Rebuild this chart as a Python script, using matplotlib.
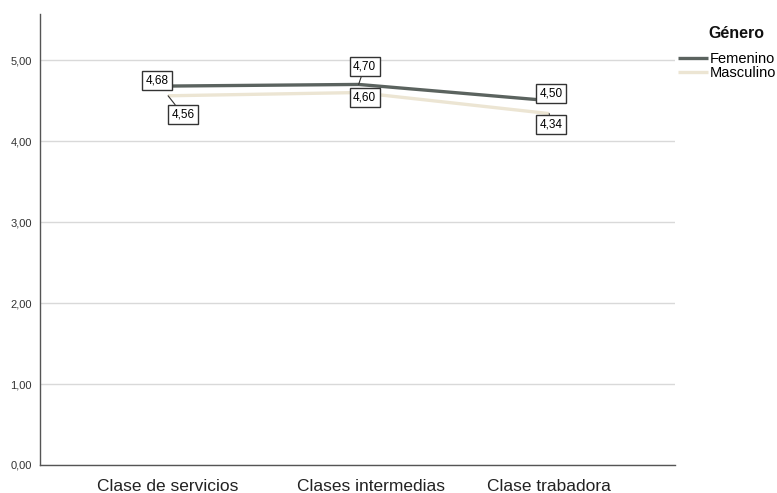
import matplotlib
matplotlib.use("Agg")
import matplotlib.pyplot as plt

categories = ["Clase de servicios", "Clases intermedias", "Clase trabadora"]
femenino = [4.68, 4.70, 4.50]
masculino = [4.56, 4.60, 4.34]
series_names = ["Femenino", "Masculino"]
yticks = [0, 1, 2, 3, 4, 5]

plt.rcParams['font.family'] = ['Liberation Sans', 'DejaVu Sans']

fig = plt.figure(figsize=(7.77, 4.93), dpi=100)
ax = fig.add_axes([40/777, 28/493, 635/777, 451/493])

c_fem = "#5b635f"
c_mas = "#ece5d3"
x = list(range(len(categories)))
ax.plot(x, femenino, color=c_fem, lw=2.4, label=series_names[0], zorder=3, solid_capstyle='butt')
ax.plot(x, masculino, color=c_mas, lw=2.4, label=series_names[1], zorder=2, solid_capstyle='butt')

ax.set_xlim(-0.672, 2.66)
ax.set_ylim(0, 5.57)
ax.set_yticks(yticks)
ax.set_yticklabels([f"{v:.2f}".replace('.', ',') for v in yticks], fontsize=8, color="#333333")
ax.set_xticks([0, 1.065, 2])
ax.set_xticklabels(categories, fontsize=12.5, color="#222222")
ax.tick_params(axis='x', length=0, pad=10)
ax.tick_params(axis='y', length=0, pad=6)
ax.yaxis.grid(True, color="#d9d9d9", lw=1)
ax.set_axisbelow(True)
for s in ['top', 'right']:
    ax.spines[s].set_visible(False)
for s in ['left', 'bottom']:
    ax.spines[s].set_color("#555555")
    ax.spines[s].set_linewidth(1)

bbox = dict(boxstyle="square,pad=0.3", fc="white", ec="#333333", lw=1)
px = 0.72
offsets_f = [(-11, 6), (6, 18), (2, 7)]
offsets_m = [(15, -19), (6, -5), (2, -11)]
for i, v in enumerate(femenino):
    dx, dy = offsets_f[i]
    ax.annotate(f"{v:.2f}".replace('.', ','), (x[i], v), xytext=(dx*px, dy*px),
                textcoords='offset points', ha='center', va='center', fontsize=8.5,
                bbox=bbox, zorder=5,
                arrowprops=dict(arrowstyle='-', color='#333333', lw=0.8, shrinkA=0, shrinkB=0))
for i, v in enumerate(masculino):
    dx, dy = offsets_m[i]
    ax.annotate(f"{v:.2f}".replace('.', ','), (x[i], v), xytext=(dx*px, dy*px),
                textcoords='offset points', ha='center', va='center', fontsize=8.5,
                bbox=bbox, zorder=5,
                arrowprops=dict(arrowstyle='-', color='#333333', lw=0.8, shrinkA=0, shrinkB=0))

fig.text(708/777, 1 - 33/493, "Género", fontsize=11.5, fontweight='bold',
         ha='left', va='center', color="#111111")
leg = fig.legend(loc='upper left', bbox_to_anchor=(678/777, 1 - 52/493), frameon=False,
                 fontsize=10.5, handlelength=2.05, handletextpad=0.15,
                 labelspacing=0.0, borderaxespad=0, borderpad=0)

fig.savefig("out.png", dpi=100)
